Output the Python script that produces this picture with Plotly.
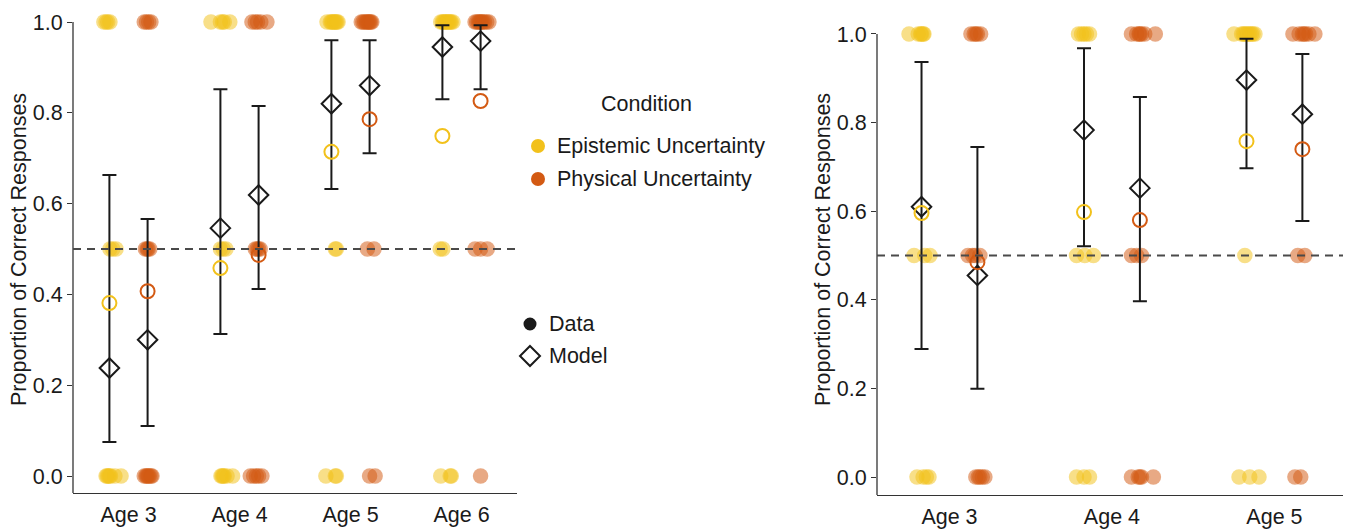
import plotly.graph_objects as go

# ---------------- data ----------------
AGES_L = ["Age 3", "Age 4", "Age 5", "Age 6"]
AGES_R = ["Age 3", "Age 4", "Age 5"]
CONDITIONS = ["Epistemic Uncertainty", "Physical Uncertainty"]
LEVELS = [1.0, 0.5, 0.0]

# observed proportion (open circles)
L_DATA_EP = [0.381, 0.458, 0.714, 0.749]
L_DATA_PH = [0.407, 0.487, 0.786, 0.826]
R_DATA_EP = [0.596, 0.598, 0.758]
R_DATA_PH = [0.485, 0.580, 0.740]

# model predictions (diamonds) with intervals
L_MODEL_EP = [0.238, 0.546, 0.820, 0.945]
L_MODEL_PH = [0.300, 0.619, 0.860, 0.958]
L_LO_EP = [0.075, 0.313, 0.632, 0.830]
L_HI_EP = [0.663, 0.852, 0.960, 0.993]
L_LO_PH = [0.110, 0.412, 0.711, 0.852]
L_HI_PH = [0.566, 0.815, 0.960, 0.993]

R_MODEL_EP = [0.610, 0.783, 0.896]
R_MODEL_PH = [0.455, 0.652, 0.819]
R_LO_EP = [0.289, 0.521, 0.697]
R_HI_EP = [0.937, 0.968, 0.989]
R_LO_PH = [0.199, 0.397, 0.578]
R_HI_PH = [0.745, 0.858, 0.955]

# individual children: jitter offsets at each response level (1.0, 0.5, 0.0), per age
L_EP_1 = [[-0.05, -0.03, -0.015, 0.005], [-0.085, 0.0, 0.02, 0.035, 0.085],
          [-0.04, -0.01, 0.0, 0.01, 0.02, 0.03, 0.04, 0.05, 0.06],
          [-0.015, 0.0, 0.01, 0.02, 0.03, 0.04, 0.05, 0.06, 0.07, 0.08, 0.095]]
L_EP_H = [[0.005, 0.03, 0.06], [0.0, 0.025, 0.05], [0.035, 0.045], [-0.02, 0.005]]
L_EP_0 = [[-0.03, -0.02, -0.01, 0.0, 0.01, 0.05, 0.105], [0.005, 0.015, 0.025, 0.035, 0.06, 0.11],
          [-0.05, 0.035, 0.045], [-0.015, 0.07, 0.08]]
L_PH_1 = [[-0.03, -0.01, 0.01, 0.03], [-0.06, -0.03, -0.01, 0.02, 0.075],
          [-0.075, -0.06, -0.045, -0.03, -0.02, -0.01, 0.0, 0.01, 0.02],
          [-0.05, -0.035, -0.02, -0.01, 0.0, 0.01, 0.02, 0.035, 0.055, 0.075]]
L_PH_H = [[-0.02, -0.005, 0.005, 0.02], [-0.03, -0.015, 0.0, 0.015], [-0.02, 0.04], [-0.05, 0.0, 0.06]]
L_PH_0 = [[-0.03, -0.015, -0.005, 0.005, 0.015, 0.03, 0.04], [-0.075, -0.045, -0.02, 0.0, 0.03],
          [0.0, 0.05], [0.0]]

R_EP_1 = [[-0.077, -0.02, -0.005, 0.0, 0.01, 0.015], [-0.034, -0.015, 0.0, 0.015, 0.034],
          [-0.077, -0.03, -0.02, -0.01, 0.0, 0.01, 0.02, 0.03, 0.04, 0.052]]
R_EP_H = [[-0.046, 0.02, 0.052], [-0.046, 0.005, 0.058], [-0.01]]
R_EP_0 = [[-0.028, 0.01, 0.03, 0.046], [-0.046, 0.0, 0.034], [-0.046, 0.02, 0.077]]
R_PH_1 = [[-0.04, -0.02, -0.01, 0.0, 0.02], [-0.052, -0.02, -0.005, 0.0, 0.01, 0.03, 0.095],
          [-0.058, -0.02, 0.0, 0.01, 0.02, 0.04, 0.077]]
R_PH_H = [[-0.058, -0.03, -0.015, 0.015], [-0.052, -0.02, 0.01], [-0.028, 0.015]]
R_PH_0 = [[-0.01, 0.005, 0.015, 0.03, 0.046], [-0.052, -0.01, 0.0, 0.01, 0.083], [-0.046, -0.01]]

# ---------------- style ----------------
YELLOW = "#F2C11B"
ORANGE = "#D35A13"
INK = "#1a1a1a"
AXC = "#333333"
FONT = "Liberation Sans, Arial, Helvetica, sans-serif"
FS = 21.5
DODGE = 0.172
W, H = 1346, 529

fig = go.Figure()


def rgba(hexc, a):
    h = hexc.lstrip("#")
    return "rgba(%d,%d,%d,%.2f)" % (int(h[0:2], 16), int(h[2:4], 16), int(h[4:6], 16), a)


def add_panel(xa, ya, n_ages, jit, data_ep, data_ph, mod_ep, mod_ph, lo_ep, hi_ep, lo_ph, hi_ph):
    # jittered individual points
    for ci, (color, sets) in enumerate([(YELLOW, jit[0]), (ORANGE, jit[1])]):
        side = -DODGE if ci == 0 else DODGE
        xs, ys = [], []
        for lev, per_age in zip(LEVELS, sets):
            for a in range(n_ages):
                for off in per_age[a]:
                    xs.append(a + 1 + side + off)
                    ys.append(lev)
        fig.add_trace(go.Scatter(x=xs, y=ys, xaxis=xa, yaxis=ya, mode="markers",
                                 marker=dict(size=15.5, color=rgba(color, 0.52), line=dict(width=0)),
                                 showlegend=False, hoverinfo="skip", cliponaxis=False))
    # model diamonds with intervals
    for ci, (m, lo, hi) in enumerate([(mod_ep, lo_ep, hi_ep), (mod_ph, lo_ph, hi_ph)]):
        side = -DODGE if ci == 0 else DODGE
        xs = [a + 1 + side for a in range(n_ages)]
        fig.add_trace(go.Scatter(
            x=xs, y=m, xaxis=xa, yaxis=ya, mode="markers",
            marker=dict(symbol="diamond-open", size=15, color=INK, line=dict(width=2, color=INK)),
            error_y=dict(type="data", symmetric=False,
                         array=[h - v for h, v in zip(hi, m)],
                         arrayminus=[v - l for v, l in zip(m, lo)],
                         color=INK, thickness=2, width=7),
            showlegend=False, cliponaxis=False))
    # observed means
    for ci, (color, d) in enumerate([(YELLOW, data_ep), (ORANGE, data_ph)]):
        side = -DODGE if ci == 0 else DODGE
        xs = [a + 1 + side for a in range(n_ages)]
        fig.add_trace(go.Scatter(x=xs, y=d, xaxis=xa, yaxis=ya, mode="markers",
                                 marker=dict(symbol="circle-open", size=14, color=color,
                                             line=dict(width=2, color=color)),
                                 showlegend=False, cliponaxis=False))


add_panel("x", "y", 4, [(L_EP_1, L_EP_H, L_EP_0), (L_PH_1, L_PH_H, L_PH_0)],
          L_DATA_EP, L_DATA_PH, L_MODEL_EP, L_MODEL_PH, L_LO_EP, L_HI_EP, L_LO_PH, L_HI_PH)
add_panel("x2", "y2", 3, [(R_EP_1, R_EP_H, R_EP_0), (R_PH_1, R_PH_H, R_PH_0)],
          R_DATA_EP, R_DATA_PH, R_MODEL_EP, R_MODEL_PH, R_LO_EP, R_HI_EP, R_LO_PH, R_HI_PH)

YL = [-0.0374, 1.0485]
YR = [-0.0406, 1.0767]
yticks = [0, 0.2, 0.4, 0.6, 0.8, 1.0]

xcommon = dict(showgrid=False, zeroline=False, showline=True, linecolor=AXC, linewidth=1.3,
               ticks="", tickfont=dict(family=FONT, size=FS, color=INK), automargin=False,
               ticklabelstandoff=2, fixedrange=True)
ycommon = dict(showgrid=False, zeroline=False, showline=False, ticks="outside", ticklen=5,
               tickwidth=1.3, tickcolor=AXC, tickvals=yticks, ticktext=["%.1f" % v for v in yticks],
               tickfont=dict(family=FONT, size=FS, color=INK), automargin=False, fixedrange=True)

fig.update_layout(
    width=W, height=H, margin=dict(l=0, r=0, t=0, b=0),
    paper_bgcolor="white", plot_bgcolor="white", showlegend=False,
    font=dict(family=FONT, color=INK),
    xaxis=dict(domain=[73 / W, 517 / W], range=[0.5, 4.5], tickvals=[1, 2, 3, 4], ticktext=AGES_L,
               anchor="y", **xcommon),
    yaxis=dict(domain=[1 - 493 / H, 1], range=YL, anchor="x", **ycommon),
    xaxis2=dict(domain=[877 / W, 1343 / W], range=[0.554, 3.422], tickvals=[1, 2, 3], ticktext=AGES_R,
                anchor="y2", **xcommon),
    yaxis2=dict(domain=[1 - 495 / H, 1], range=YR, anchor="x2", **ycommon),
)

shapes = []
for xr, yr, yrng in [("x", "y", YL), ("x2", "y2", YR)]:
    shapes.append(dict(type="line", xref=xr + " domain", yref=yr, x0=0, x1=0, y0=yrng[0], y1=1.0,
                       line=dict(color=AXC, width=1.3), layer="above"))
    shapes.append(dict(type="line", xref=xr + " domain", yref=yr, x0=0, x1=1, y0=0.5, y1=0.5,
                       line=dict(color="#4a4a4a", width=2.2, dash="8px,6px"), layer="above"))


def px(x):
    return x / W


def py(y):
    return 1 - y / H


# legend markers
for cx, cy, col in [(538, 146, YELLOW), (538, 179, ORANGE), (530, 324, INK)]:
    r = 7 if col != INK else 6.5
    shapes.append(dict(type="circle", xref="paper", yref="paper",
                       x0=px(cx - r), x1=px(cx + r), y0=py(cy + r), y1=py(cy - r),
                       fillcolor=col, line=dict(width=0)))
dx, dy = 10, 10
shapes.append(dict(type="path", xref="paper", yref="paper",
                   path="M %f %f L %f %f L %f %f L %f %f Z" % (
                       px(530), py(356 - dy), px(530 + dx), py(356), px(530), py(356 + dy), px(530 - dx), py(356)),
                   line=dict(color=INK, width=2), fillcolor="rgba(0,0,0,0)"))
fig.update_layout(shapes=shapes)

ann = []
lf = dict(family=FONT, size=FS, color=INK)
ann.append(dict(text="Condition", x=px(646), y=py(104), xref="paper", yref="paper",
                showarrow=False, xanchor="center", yanchor="middle", font=lf))
for t, yy in [("Epistemic Uncertainty", 146), ("Physical Uncertainty", 179)]:
    ann.append(dict(text=t, x=px(555), y=py(yy), xref="paper", yref="paper", showarrow=False,
                    xanchor="left", yanchor="middle", font=lf))
for t, yy in [("Data", 324), ("Model", 356)]:
    ann.append(dict(text=t, x=px(547), y=py(yy), xref="paper", yref="paper", showarrow=False,
                    xanchor="left", yanchor="middle", font=lf))
for xx in [19, 823]:
    ann.append(dict(text="Proportion of Correct Responses", x=px(xx), y=py(250), xref="paper",
                    yref="paper", showarrow=False, textangle=-90, xanchor="center", yanchor="middle",
                    font=dict(family=FONT, size=FS, color=INK)))
fig.update_layout(annotations=ann)

fig.write_html("out.html", config={"displayModeBar": False},
               post_script="document.body.style.margin='0px';document.body.style.padding='0px';"
                           "document.body.style.overflow='hidden';")
